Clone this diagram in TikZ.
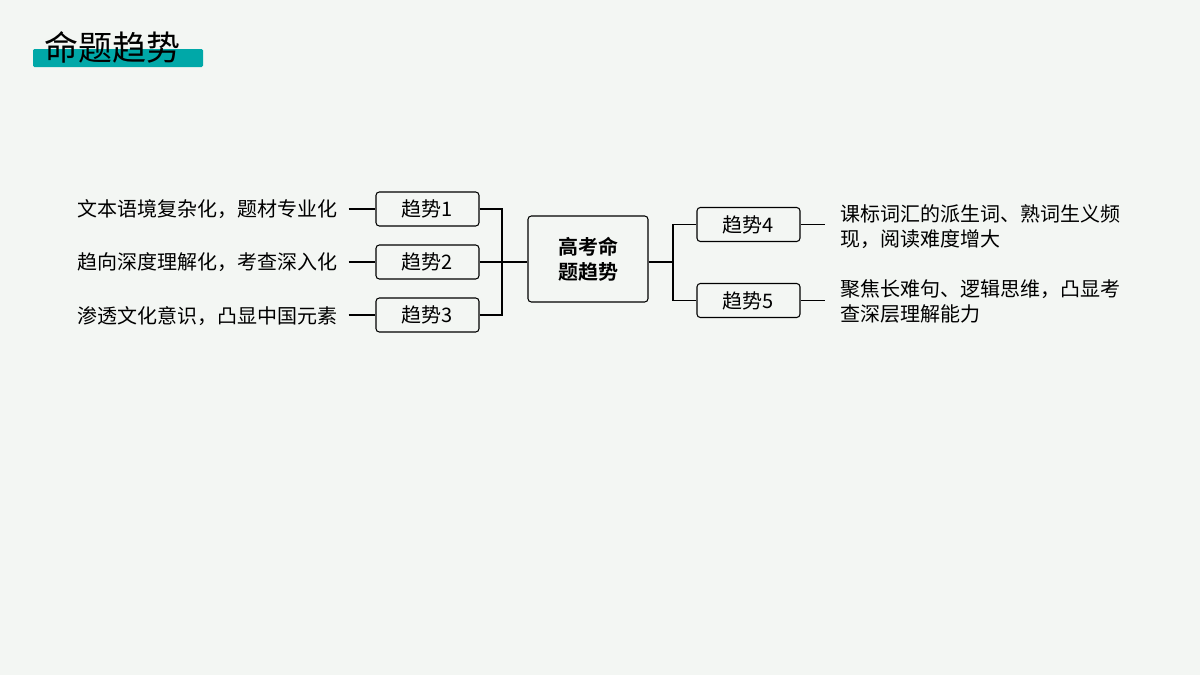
\documentclass[tikz,border=0pt]{standalone}
\usepackage{fontspec}
\setmainfont{Liberation Serif}
\newfontfamily\cjk{Noto Sans CJK SC}
\newfontfamily\cjkb{Noto Sans CJK SC Bold}
\definecolor{bgc}{RGB}{243,246,243}
\definecolor{tealbar}{RGB}{0,168,168}
\tikzset{
  trendbox/.style={draw, rounded corners=2.5pt, line width=0.8pt, minimum width=77.25pt, minimum height=25.5pt, inner sep=0pt, font=\fontsize{15}{18}\selectfont\cjk},
  notetext/.style={inner sep=0pt, font=\fontsize{15}{18.75}\selectfont\cjk, align=left},
  link/.style={line width=0.8pt}
}
\begin{document}
\begin{tikzpicture}[x=0.75pt,y=0.75pt,yscale=-1,xscale=1]
\useasboundingbox (0,0) rectangle (1200,675);
\fill[bgc] (0,0) rectangle (1200,675);

% title
\fill[tealbar, rounded corners=1pt] (33,49) rectangle (203,67);
\node (title) [anchor=west, inner sep=0pt, font=\fontsize{25.5}{28}\selectfont\cjk] at (44,47) {命题趋势};

% center
\node (core) [draw, rounded corners=2.5pt, line width=0.8pt, minimum width=90pt, minimum height=64.5pt, align=center, font=\fontsize{15}{19}\selectfont\cjkb] at (588,259) {高考命\\题趋势};

% left trends
\node (t1) [trendbox] at (427.5,209) {趋势1};
\node (t2) [trendbox] at (427.5,262) {趋势2};
\node (t3) [trendbox] at (427.5,315) {趋势3};
\node (n1) [notetext, anchor=east] at (338,209) {文本语境复杂化，题材专业化};
\node (n2) [notetext, anchor=east] at (338,262) {趋向深度理解化，考查深入化};
\node (n3) [notetext, anchor=east] at (338,316) {渗透文化意识，凸显中国元素};

% right trends
\node (t4) [trendbox] at (748.5,224.5) {趋势4};
\node (t5) [trendbox] at (748.5,300.5) {趋势5};
\node (n4) [notetext, anchor=west] at (840,227) {课标词汇的派生词、熟词生义频\\现，阅读难度增大};
\node (n5) [notetext, anchor=west] at (840,301) {聚焦长难句、逻辑思维，凸显考\\查深层理解能力};

% connectors
\coordinate (lb) at (502,262);
\coordinate (rb) at (673,262);
\draw[link] (t1.east) -| (lb);
\draw[link] (t3.east) -| (lb);
\draw[link] (t2.east) -- (core.west |- t2.east);
\draw[link] (core.east |- rb) -- (rb) |- (t4.west);
\draw[link] (rb) |- (t5.west);
\foreach \i in {1,2,3} {
  \draw[link] ([xshift=8pt]n\i.east |- t\i.west) -- (t\i.west);
}
\draw[link] (t4.east) -- ++(24,0);
\draw[link] (t5.east) -- ++(24,0);
\end{tikzpicture}
\end{document}
